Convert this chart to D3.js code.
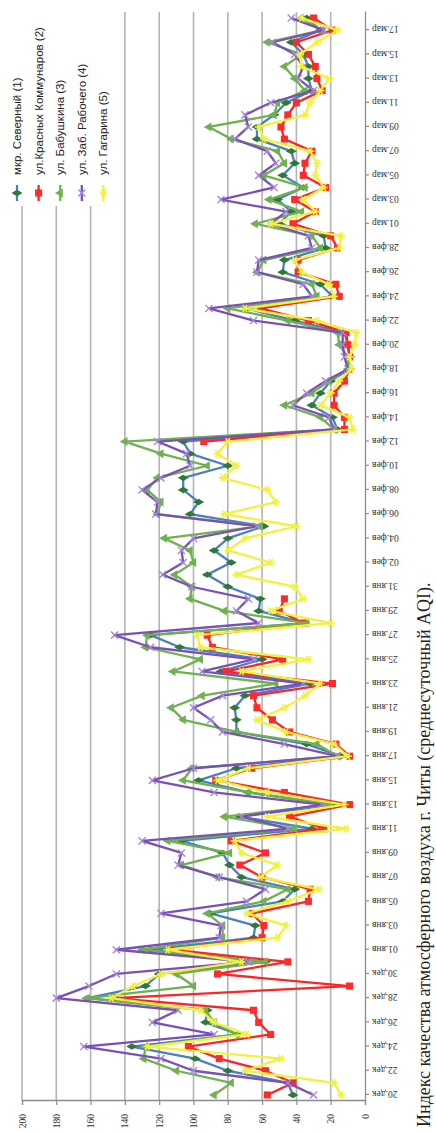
<!DOCTYPE html>
<html><head><meta charset="utf-8">
<script src="https://cdn.jsdelivr.net/npm/d3@7"></script>
<style>html,body{margin:0;padding:0;background:#fff;}svg{display:block;}</style>
</head><body>
<svg id="chart" width="436" height="1132"></svg>
<script>
// ---- data ----
const startDate = new Date(2015, 11, 20);
const endDate = new Date(2016, 2, 19); // exclusive
const monthsRu = ["янв","фев","мар","апр","май","июн","июл","авг","сен","окт","ноя","дек"];
const valueTicks = [0,20,40,60,80,100,120,140,160,180,200];
const seriesNames = ["мкр. Северный (1)","ул.Красных Коммунаров (2)","ул. Бабушкина (3)","ул. Заб. Рабочего (4)","ул. Гагарина (5)"];
const severny = [42,45,80,99,136,74,93,92,162,128,120,58,125,
65,64,90,48,41,72,79,83,107,31,73,18,68,
97,75,14,34,75,75,76,70,32,84,60,108,125,
35,62,61,80,92,78,88,80,59,102,97,106,106,
80,102,106,16,19,31,26,20,9,9,10,12,41,
69,19,26,48,47,23,24,50,43,51,36,48,
41,43,63,63,53,46,31,33,33,36,43,26,34];
const krasnykh = [57,42,58,85,103,55,62,65,146,9,86,45,113,
60,59,66,33,32,60,73,58,78,24,44,9,47,
87,66,9,17,44,54,63,65,19,81,48,89,92,
36,50,47,null,null,null,null,null,null,null,null,null,null,
null,null,94,12,12,18,18,12,9,9,10,11,33,
61,15,17,39,39,16,20,42,29,41,23,36,
35,31,47,49,45,40,25,28,29,33,40,19,30];
const babushkina = [88,78,110,129,128,75,88,93,162,100,110,58,130,
83,83,92,59,45,86,107,79,115,41,82,20,68,
106,101,16,28,75,106,113,95,52,112,96,128,127,
34,82,102,101,111,100,102,117,61,121,119,127,121,
92,119,140,18,26,47,31,21,10,10,15,16,45,
80,28,31,63,59,26,31,64,37,56,35,59,
47,51,78,91,53,51,35,41,47,37,57,25,37];
const rabochego = [30,45,100,119,164,88,124,109,180,161,145,68,145,
85,84,119,69,58,85,109,107,130,45,72,25,88,
124,100,16,47,83,90,100,83,36,95,65,125,146,
62,75,68,101,118,106,107,100,63,122,121,130,119,
102,104,121,18,21,42,34,23,10,12,13,13,65,
91,31,36,63,62,31,33,55,46,84,53,62,
52,57,76,68,70,55,30,39,36,41,54,24,43];
const gagarina = [14,18,70,49,127,69,88,96,148,135,119,72,115,
51,46,69,45,27,61,51,72,76,11,57,12,57,
86,68,10,18,46,63,47,35,26,72,33,96,98,
20,55,36,41,75,55,80,70,40,82,52,57,83,
75,86,80,7,9,26,20,15,8,9,6,5,28,
70,18,21,37,41,15,14,55,29,36,24,29,
28,32,59,62,35,32,26,21,37,38,28,16,37];
const captionText = "Индекс качества атмосферного воздуха г. Читы (среднесуточный AQI).";

// ---- chart (drawn in landscape, then rotated) ----
const days = d3.timeDay.range(startDate, endDate);
const fmtDay = d3.timeFormat("%d");
const label = d => fmtDay(d) + "." + monthsRu[d.getMonth()];
const idx = d3.range(days.length);

const svg = d3.select("#chart");
const g = svg.append("g").attr("transform", "translate(0,1132) rotate(-90)");

const x = d3.scalePoint().domain(idx).range([31, 1120]).padding(0.5);
const y = d3.scaleLinear().domain([0, 200]).range([365, 22]);

// gridlines
g.append("g").selectAll("line").data(valueTicks.filter(v => v > 0)).join("line")
  .attr("x1", 31).attr("x2", 1120)
  .attr("y1", d => y(d)).attr("y2", d => y(d))
  .attr("stroke", "#b4b4b4").attr("stroke-width", 1.6);

// value axis
const ya = g.append("g").attr("transform", "translate(31,0)")
  .call(d3.axisLeft(y).tickValues(valueTicks).tickSize(4).tickPadding(9));
ya.select(".domain").attr("stroke", "#8c8c8c").attr("stroke-width", 1.3);
ya.selectAll(".tick line").attr("stroke", "#8c8c8c").attr("stroke-width", 1.2);
ya.selectAll("text").attr("font-family", "Liberation Serif, serif").attr("font-size", 9.5).attr("fill", "#333");

// date axis
const xa = g.append("g").attr("transform", "translate(0,365)")
  .call(d3.axisBottom(x).tickValues(idx.filter(i => i % 2 === 0)).tickFormat(i => label(days[i])).tickSize(4).tickSizeOuter(0));
xa.select(".domain").attr("stroke", "#8c8c8c").attr("stroke-width", 1.3);
xa.selectAll(".tick line").attr("stroke", "#8c8c8c").attr("stroke-width", 1.2);
xa.selectAll("text")
  .attr("transform", "rotate(-90)")
  .attr("text-anchor", "end")
  .attr("x", -7).attr("y", 0).attr("dy", "0.35em")
  .attr("font-family", "Liberation Serif, serif").attr("font-size", 9.5).attr("fill", "#333");

// series
const series = [
  {name: seriesNames[0], values: severny, line: "#4a7fc1", mark: "diamond", mfill: "#2e7a34"},
  {name: seriesNames[1], values: krasnykh, line: "#ff2424", mark: "square", mfill: "#ff2a2a"},
  {name: seriesNames[2], values: babushkina, line: "#6db24e", mark: "triangle", mfill: "#6db24e"},
  {name: seriesNames[3], values: rabochego, line: "#7a50b8", mark: "cross", mfill: "#a486dc"},
  {name: seriesNames[4], values: gagarina, line: "#f2f23a", mark: "star", mfill: "#f2f23a"}
];

function drawMarker(sel, s, size) {
  if (s.mark === "diamond") {
    sel.append("path").attr("d", d3.symbol(d3.symbolDiamond, size * 7)()).attr("fill", s.mfill);
  } else if (s.mark === "square") {
    sel.append("path").attr("d", d3.symbol(d3.symbolSquare, size * 10)()).attr("fill", s.mfill);
  } else if (s.mark === "triangle") {
    sel.append("path").attr("d", d3.symbol(d3.symbolTriangle, size * 7)()).attr("fill", s.mfill);
  } else if (s.mark === "cross") {
    sel.append("path").attr("d", d3.symbol(d3.symbolX, size * 7)()).attr("fill", "none").attr("stroke", s.mfill).attr("stroke-width", 1.4);
  } else {
    sel.append("path").attr("d", d3.symbol(d3.symbolAsterisk, size * 9)()).attr("fill", "none").attr("stroke", s.mfill).attr("stroke-width", 1.6);
  }
}

const line = d3.line().defined(d => d.v != null).x(d => x(d.i)).y(d => y(d.v));
series.forEach(s => {
  const pts = s.values.map((v, i) => ({i, v}));
  const sg = g.append("g");
  sg.append("path").datum(pts).attr("d", line)
    .attr("fill", "none").attr("stroke", s.line).attr("stroke-width", 2.3).attr("stroke-linejoin", "round");
  sg.selectAll("g.m").data(pts.filter(p => p.v != null)).join("g").attr("class", "m")
    .attr("transform", p => `translate(${x(p.i)},${y(p.v)})`)
    .each(function() { drawMarker(d3.select(this), s, 5); });
});

// legend
const lg = g.append("g");
lg.append("rect").attr("x", 926).attr("y", 3).attr("width", 204).attr("height", 112).attr("fill", "#fff");
series.forEach((s, k) => {
  const ry = 17 + k * 21.6;
  const e = lg.append("g").attr("transform", `translate(0,${ry})`);
  e.append("line").attr("x1", 931).attr("x2", 947).attr("y1", 0).attr("y2", 0).attr("stroke", s.line).attr("stroke-width", 2.3);
  drawMarker(e.append("g").attr("transform", "translate(939,0)"), s, 5);
  e.append("text").attr("x", 957).attr("y", 0).attr("dy", "0.35em")
    .attr("font-family", "Liberation Sans, Arial, sans-serif").attr("font-size", 11.5).attr("fill", "#222")
    .text(s.name);
});

// caption
g.append("text").attr("x", 5).attr("y", 430)
  .attr("font-family", "Liberation Serif, 'Times New Roman', serif").attr("font-size", 18).attr("fill", "#222")
  .text(captionText);
</script>
</body></html>
